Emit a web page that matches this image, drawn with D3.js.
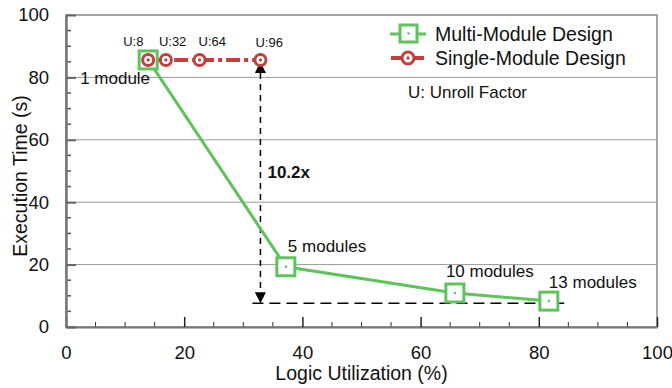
<!DOCTYPE html>
<html>
<head>
<meta charset="utf-8">
<script src="https://cdn.jsdelivr.net/npm/d3@7"></script>
<style>
body{margin:0;background:#fff;}
text{font-family:"Liberation Sans",Arial,sans-serif;fill:#111;}
</style>
</head>
<body>
<svg width="672" height="388"></svg>
<script>
// data
var multiX=[13.9,37.2,65.8,81.7];
var multiY=[85.6,19.3,10.9,8.3];
var multiLabels=["1 module","5 modules","10 modules","13 modules"];
var singleX=[13.9,16.9,22.6,32.9];
var singleY=[85.6,85.6,85.6,85.6];
var singleLabels=["U:8","U:32","U:64","U:96"];
var speedupLabel="10.2x";
var bestTime=7.6;
var xTicks=[0,20,40,60,80,100];
var yTicks=[0,20,40,60,80,100];

// label offsets (px) from their points
var multiDx=[-68,2,-9,0], multiDy=[24,-15,-16,-13];
var singleDx=[-25,-7,-1,-5], singleDy=[-14,-14,-14,-13];

var green="#5cc45a", red="#c23f3e";
var svg=d3.select("svg");
var m={left:66,right:15,top:15,bottom:61};
var W=672, H=388;

var x=d3.scaleLinear().domain([0,100]).range([m.left,W-m.right]);
var y=d3.scaleLinear().domain([0,100]).range([H-m.bottom,m.top]);

// gridlines
svg.append("g").selectAll("line").data([20,40,60,80]).enter().append("line")
  .attr("x1",x(0)).attr("x2",x(100))
  .attr("y1",function(d){return y(d);}).attr("y2",function(d){return y(d);})
  .attr("stroke","#999").attr("stroke-width",1);

// frame
svg.append("rect").attr("x",x(0)).attr("y",y(100))
  .attr("width",x(100)-x(0)).attr("height",y(0)-y(100))
  .attr("fill","none").attr("stroke","#888").attr("stroke-width",1.5);

// minor ticks (inside)
var minor=d3.range(5,100,5).filter(function(d){return d%20!==0;});
svg.append("g").selectAll("line").data(minor).enter().append("line")
  .attr("x1",function(d){return x(d);}).attr("x2",function(d){return x(d);})
  .attr("y1",y(0)).attr("y2",y(0)-5).attr("stroke","#333").attr("stroke-width",1);
svg.append("g").selectAll("line").data(minor).enter().append("line")
  .attr("y1",function(d){return y(d);}).attr("y2",function(d){return y(d);})
  .attr("x1",x(0)).attr("x2",x(0)+5).attr("stroke","#555").attr("stroke-width",1.5);

// x axis
var xAxis=svg.append("g").attr("transform","translate(0,"+y(0)+")")
  .call(d3.axisBottom(x).tickValues(xTicks).tickSizeInner(-10).tickSizeOuter(0).tickPadding(19));
xAxis.select(".domain").attr("stroke","#777").attr("stroke-width",2);
xAxis.selectAll(".tick line").attr("stroke","#222").attr("stroke-width",1.5);
xAxis.selectAll("text").attr("font-size",18.5).attr("font-family","Liberation Sans, Arial, sans-serif").attr("fill","#111");

// y axis
var yAxis=svg.append("g").attr("transform","translate("+x(0)+",0)")
  .call(d3.axisLeft(y).tickValues(yTicks).tickSizeInner(-10).tickSizeOuter(0).tickPadding(17));
yAxis.select(".domain").attr("stroke","#777").attr("stroke-width",2.5);
yAxis.selectAll(".tick line").attr("stroke","#666").attr("stroke-width",2);
yAxis.selectAll("text").attr("font-size",18.5).attr("font-family","Liberation Sans, Arial, sans-serif").attr("fill","#111");

// axis titles
svg.append("text").attr("x",(x(0)+x(100))/2).attr("y",380).attr("text-anchor","middle")
  .attr("font-size",19.5).text("Logic Utilization (%)");
svg.append("text").attr("transform","translate(27,176) rotate(-90)")
  .attr("text-anchor","middle").attr("font-size",19.5).text("Execution Time (s)");

// arrows
var defs=svg.append("defs");
defs.append("marker").attr("id","ah").attr("viewBox","0 0 10 10").attr("refX",10).attr("refY",5)
  .attr("markerWidth",13).attr("markerHeight",11).attr("markerUnits","userSpaceOnUse").attr("orient","auto-start-reverse")
  .append("path").attr("d","M0,0L10,5L0,10Z").attr("fill","#000");

var xa=singleX[3], yTop=singleY[3];
svg.append("line").attr("x1",x(xa)).attr("x2",x(xa)).attr("y1",y(yTop)+2).attr("y2",y(bestTime))
  .attr("stroke","#000").attr("stroke-width",1.5).attr("stroke-dasharray","6,5")
  .attr("marker-start","url(#ah)").attr("marker-end","url(#ah)");
svg.append("line").attr("x1",x(xa)-8).attr("x2",x(84.3)).attr("y1",y(bestTime)).attr("y2",y(bestTime))
  .attr("stroke","#000").attr("stroke-width",1.5).attr("stroke-dasharray","11,6");
svg.append("text").attr("x",x(xa)+7).attr("y",178).attr("font-size",17).attr("font-weight","bold")
  .text(speedupLabel);

var single=singleX.map(function(d,i){return [d,singleY[i]];});
var multi=multiX.map(function(d,i){return [d,multiY[i]];});
var line=d3.line().x(function(d){return x(d[0]);}).y(function(d){return y(d[1]);});

// single module line
svg.append("path").datum(single).attr("d",line).attr("fill","none").attr("stroke",red)
  .attr("stroke-width",4).attr("stroke-dasharray","14,4,4,4");

// multi module line
svg.append("path").datum(multi).attr("d",line).attr("fill","none").attr("stroke",green).attr("stroke-width",3);

// multi markers
var mg=svg.append("g").selectAll("g").data(multi).enter().append("g")
  .attr("transform",function(d){return "translate("+x(d[0])+","+y(d[1])+")";});
mg.append("rect").attr("x",-9).attr("y",-9).attr("width",18).attr("height",18)
  .attr("fill","#fff").attr("stroke",green).attr("stroke-width",3);
mg.append("circle").attr("r",1.3).attr("fill",green);

// single markers
var sg=svg.append("g").selectAll("g").data(single).enter().append("g")
  .attr("transform",function(d){return "translate("+x(d[0])+","+y(d[1])+")";});
sg.append("circle").attr("r",5.5).attr("fill","#fff").attr("stroke",red).attr("stroke-width",3);
sg.append("circle").attr("r",1.6).attr("fill",red);

// labels for multi points
svg.append("g").selectAll("text").data(multi).enter().append("text")
  .attr("x",function(d,i){return x(d[0])+multiDx[i];})
  .attr("y",function(d,i){return y(d[1])+multiDy[i];})
  .attr("font-size",17).text(function(d,i){return multiLabels[i];});

// U labels
svg.append("g").selectAll("text").data(single).enter().append("text")
  .attr("x",function(d,i){return x(d[0])+singleDx[i];})
  .attr("y",function(d,i){return y(d[1])+singleDy[i];})
  .attr("font-size",13).text(function(d,i){return singleLabels[i];});

// legend
var lg=svg.append("g").attr("transform","translate(390,34)");
lg.append("line").attr("x1",0).attr("x2",36).attr("y1",0).attr("y2",0).attr("stroke",green).attr("stroke-width",3);
lg.append("rect").attr("x",10).attr("y",-9).attr("width",17).attr("height",17).attr("fill","#fff").attr("stroke",green).attr("stroke-width",3);
lg.append("circle").attr("cx",18.5).attr("cy",-0.5).attr("r",1.2).attr("fill",green);
lg.append("text").attr("x",45).attr("y",7).attr("font-size",19.5).text("Multi-Module Design");
lg.append("line").attr("x1",1).attr("x2",34).attr("y1",24).attr("y2",24).attr("stroke",red).attr("stroke-width",4);
lg.append("circle").attr("cx",18).attr("cy",24).attr("r",6).attr("fill","#fff").attr("stroke",red).attr("stroke-width",3);
lg.append("circle").attr("cx",18).attr("cy",24).attr("r",1.7).attr("fill",red);
lg.append("text").attr("x",45).attr("y",31).attr("font-size",19.5).text("Single-Module Design");
lg.append("text").attr("x",18).attr("y",64).attr("font-size",17).text("U: Unroll Factor");
</script>
</body>
</html>
